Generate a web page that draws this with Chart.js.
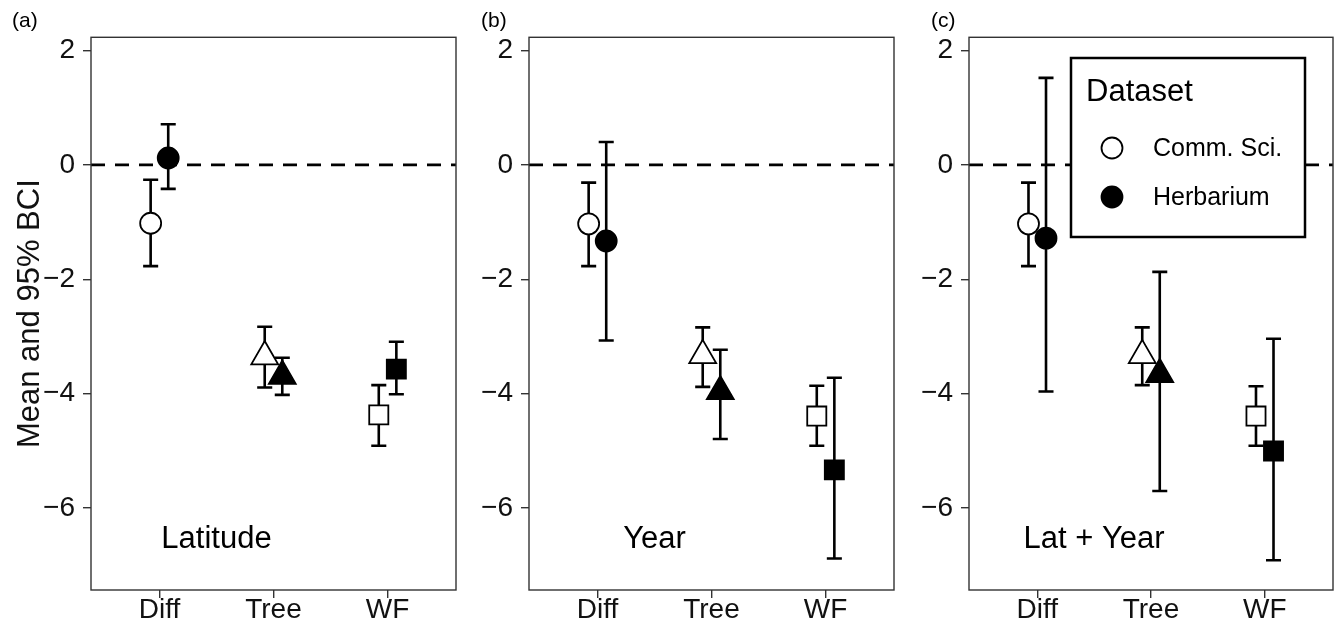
<!DOCTYPE html>
<html>
<head>
<meta charset="utf-8">
<script src="https://cdn.jsdelivr.net/npm/chart.js@4"></script>
<style>
  body { margin: 0; background: #fff; width: 1335px; height: 629px; overflow: hidden; position: relative; }
  canvas { position: absolute; top: 0; }
</style>
</head>
<body>
<canvas id="panelA" width="460" height="629" style="left:0px"></canvas>
<canvas id="panelB" width="440" height="629" style="left:460px"></canvas>
<canvas id="panelC" width="435" height="629" style="left:900px"></canvas>
<script>
// categories and ticks
const categories = ['Diff', 'Tree', 'WF'];
const xTicks = [1, 2, 3];
const yTicks = [-6, -4, -2, 0, 2];
const seriesNames = ['Comm. Sci.', 'Herbarium'];
const markerShapes = ['circle', 'triangle', 'rect'];

// (a) Latitude
const latComm = [-1.02, -3.35, -4.37];
const latCommLo = [-1.77, -3.89, -4.91];
const latCommHi = [-0.26, -2.83, -3.85];
const latHerb = [0.12, -3.69, -3.57];
const latHerbLo = [-0.42, -4.02, -4.01];
const latHerbHi = [0.71, -3.37, -3.09];

// (b) Year
const yearComm = [-1.03, -3.33, -4.39];
const yearCommLo = [-1.77, -3.88, -4.91];
const yearCommHi = [-0.31, -2.84, -3.86];
const yearHerb = [-1.33, -3.96, -5.33];
const yearHerbLo = [-3.07, -4.79, -6.88];
const yearHerbHi = [0.40, -3.23, -3.72];

// (c) Lat + Year
const bothComm = [-1.03, -3.33, -4.39];
const bothCommLo = [-1.77, -3.85, -4.91];
const bothCommHi = [-0.31, -2.84, -3.87];
const bothHerb = [-1.28, -3.66, -5.00];
const bothHerbLo = [-3.96, -5.70, -6.91];
const bothHerbHi = [1.52, -1.87, -3.04];

const dodge = 0.077;
const capHalf = 0.066;
const FONT = "'Liberation Sans', Arial, sans-serif";

Chart.defaults.font.family = FONT;
Chart.defaults.color = '#111';

// error bars drawn with the chart scales, under the points
const errorBars = {
  id: 'errorBars',
  beforeDatasetsDraw(chart) {
    const ctx = chart.ctx, xs = chart.scales.x, ys = chart.scales.y;
    ctx.save();
    ctx.strokeStyle = '#000';
    ctx.lineWidth = 2.6;
    chart.data.datasets.forEach(ds => {
      if (!ds.lo) return;
      ds.data.forEach((p, i) => {
        const x = xs.getPixelForValue(p.x);
        const y1 = ys.getPixelForValue(ds.lo[i]);
        const y2 = ys.getPixelForValue(ds.hi[i]);
        const hw = xs.getPixelForValue(p.x + capHalf) - x;
        ctx.beginPath();
        ctx.moveTo(x, y1); ctx.lineTo(x, y2);
        ctx.moveTo(x - hw, y1); ctx.lineTo(x + hw, y1);
        ctx.moveTo(x - hw, y2); ctx.lineTo(x + hw, y2);
        ctx.stroke();
      });
    });
    ctx.restore();
  }
};

// panel frame, panel text, tag and legend
const decor = {
  id: 'decor',
  afterDraw(chart, args, opts) {
    const ctx = chart.ctx, a = chart.chartArea;
    const xs = chart.scales.x, ys = chart.scales.y;
    ctx.save();
    // model name inside the panel
    ctx.fillStyle = '#000';
    ctx.font = '31px ' + FONT;
    ctx.textAlign = 'center';
    ctx.textBaseline = 'alphabetic';
    ctx.fillText(opts.label, xs.getPixelForValue(1.5), ys.getPixelForValue(-6.7));

    // frame
    ctx.strokeStyle = '#333';
    ctx.lineWidth = 1.4;
    ctx.strokeRect(a.left, a.top, a.right - a.left, a.bottom - a.top);

    // (a)/(b)/(c)
    ctx.textAlign = 'left';
    ctx.font = '21px ' + FONT;
    ctx.fillText(opts.tag, opts.tagX, 27);

    if (opts.legend) {
      const lx = 171, ly = 58, lw = 234, lh = 179;
      ctx.fillStyle = '#fff';
      ctx.fillRect(lx, ly, lw, lh);
      ctx.strokeStyle = '#000';
      ctx.lineWidth = 2.5;
      ctx.strokeRect(lx, ly, lw, lh);
      ctx.fillStyle = '#000';
      ctx.font = '31px ' + FONT;
      ctx.fillText('Dataset', lx + 15, 101);
      ctx.font = '25px ' + FONT;
      seriesNames.forEach((name, i) => {
        const cy = 148 + i * 49;
        ctx.beginPath();
        ctx.arc(212, cy, 10.5, 0, Math.PI * 2);
        ctx.fillStyle = i === 0 ? '#fff' : '#000';
        ctx.fill();
        ctx.lineWidth = 1.8;
        ctx.strokeStyle = '#000';
        ctx.stroke();
        ctx.fillStyle = '#000';
        ctx.fillText(name, 253, cy + 8);
      });
    }
    ctx.restore();
  }
};

function fmt(v) {
  return v < 0 ? '\u2212' + Math.abs(v) : String(v);
}

function makePanel(id, comm, commLo, commHi, herb, herbLo, herbHi, label, tag, tagX, axisWidth, padRight, withTitle, withLegend) {
  const ctx = document.getElementById(id).getContext('2d');
  return new Chart(ctx, {
    type: 'scatter',
    data: {
      datasets: [
        {
          type: 'line',
          data: [{ x: 0.4, y: 0 }, { x: 3.6, y: 0 }],
          borderColor: '#000',
          borderWidth: 2.6,
          borderDash: [14, 10],
          pointRadius: 0,
          order: 3
        },
        {
          label: seriesNames[0],
          data: categories.map((c, i) => ({ x: xTicks[i] - dodge, y: comm[i] })),
          lo: commLo,
          hi: commHi,
          pointStyle: markerShapes,
          pointRadius: [10.5, 15.5, 13.5],
          backgroundColor: '#fff',
          borderColor: '#000',
          borderWidth: 1.8,
          order: 2
        },
        {
          label: seriesNames[1],
          data: categories.map((c, i) => ({ x: xTicks[i] + dodge, y: herb[i] })),
          lo: herbLo,
          hi: herbHi,
          pointStyle: markerShapes,
          pointRadius: [10.5, 15.5, 13.5],
          backgroundColor: '#000',
          borderColor: '#000',
          borderWidth: 1.8,
          order: 1
        }
      ]
    },
    options: {
      responsive: false,
      animation: false,
      devicePixelRatio: 1,
      layout: { autoPadding: false, padding: { top: 37.3, bottom: 0, left: 0, right: padRight } },
      plugins: {
        legend: { display: false },
        tooltip: { enabled: false },
        decor: { label: label, tag: tag, tagX: tagX, legend: withLegend }
      },
      scales: {
        x: {
          type: 'linear',
          min: 0.4,
          max: 3.6,
          afterBuildTicks: axis => { axis.ticks = xTicks.map(v => ({ value: v })); },
          afterFit: axis => { axis.height = 39; axis.paddingLeft = 0; axis.paddingRight = 0; },
          ticks: {
            callback: v => categories[v - 1],
            font: { size: 28 },
            color: '#111',
            padding: -5,
            maxRotation: 0
          },
          grid: { drawOnChartArea: false, drawTicks: true, tickLength: 8, color: '#333', lineWidth: 1.4 },
          border: { display: false }
        },
        y: {
          min: -7.43,
          max: 2.23,
          afterBuildTicks: axis => { axis.ticks = yTicks.map(v => ({ value: v })); },
          afterFit: axis => { axis.width = axisWidth; axis.paddingTop = 0; axis.paddingBottom = 0; },
          ticks: {
            callback: v => fmt(v),
            font: { size: 28 },
            color: '#111',
            padding: 8
          },
          title: {
            display: withTitle,
            text: 'Mean and 95% BCI',
            font: { size: 31 },
            color: '#111',
            padding: { top: 12, bottom: 0 }
          },
          grid: { drawOnChartArea: false, drawTicks: true, tickLength: 8, color: '#333', lineWidth: 1.4 },
          border: { display: false }
        }
      }
    },
    plugins: [errorBars, decor]
  });
}

makePanel('panelA', latComm, latCommLo, latCommHi, latHerb, latHerbLo, latHerbHi, 'Latitude', '(a)', 12, 91, 4, true, false);
makePanel('panelB', yearComm, yearCommLo, yearCommHi, yearHerb, yearHerbLo, yearHerbHi, 'Year', '(b)', 21, 69, 6, false, false);
makePanel('panelC', bothComm, bothCommLo, bothCommHi, bothHerb, bothHerbLo, bothHerbHi, 'Lat + Year', '(c)', 31, 69, 2, false, true);
</script>
</body>
</html>
